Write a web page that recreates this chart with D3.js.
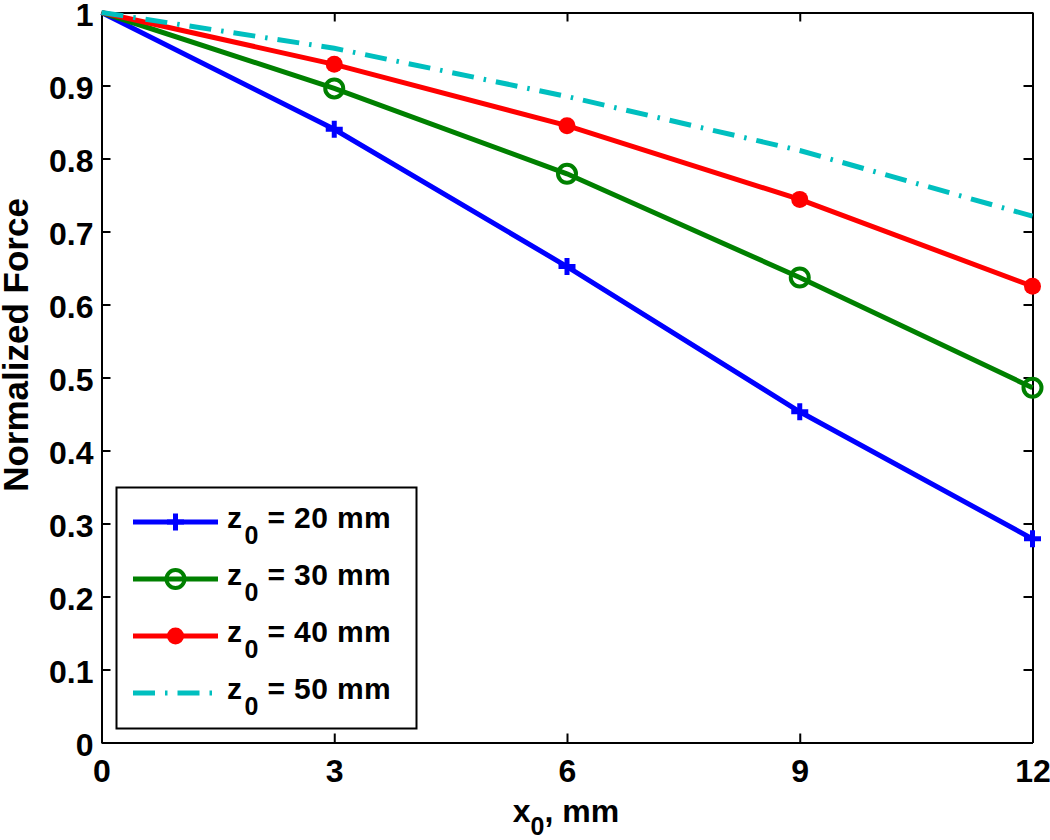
<!DOCTYPE html>
<html><head><meta charset="utf-8">
<script src="https://cdn.jsdelivr.net/npm/d3@7"></script>
<style>body{margin:0;background:#fff}svg{display:block}text{font-family:"Liberation Sans",Arial,sans-serif;font-weight:bold;fill:#000}</style>
</head><body><svg id="c" width="1050" height="840"></svg>
<script>
const xValues = [0, 3, 6, 9, 12];
const z20 = [1, 0.840, 0.652, 0.453, 0.279];
const z30 = [1, 0.896, 0.779, 0.637, 0.486];
const z40 = [1, 0.929, 0.845, 0.744, 0.625];
const z50 = [1, 0.951, 0.885, 0.811, 0.721];
const seriesNames = ["20", "30", "40", "50"];
const xTicks = [0, 3, 6, 9, 12];
const yTicks = [0, 0.1, 0.2, 0.3, 0.4, 0.5, 0.6, 0.7, 0.8, 0.9, 1];

const series = [
  {name: seriesNames[0], vals: z20, color: "#0000ff", marker: "plus", dash: null},
  {name: seriesNames[1], vals: z30, color: "#008000", marker: "circle", dash: null},
  {name: seriesNames[2], vals: z40, color: "#ff0000", marker: "dot", dash: null},
  {name: seriesNames[3], vals: z50, color: "#00bfbf", marker: null, dash: "22,10,2.5,10"}
];

const L = 101.5, R = 1032.5, T = 12.5, B = 742.5;
const svg = d3.select("#c");
const x = d3.scaleLinear().domain([0, 12]).range([L, R]);
const y = d3.scaleLinear().domain([0, 1]).range([B, T]);

const tick = 9;
const gx = svg.append("g").attr("transform", `translate(0,${B})`)
  .call(d3.axisBottom(x).tickValues(xTicks).tickSizeInner(-tick).tickSizeOuter(0).tickPadding(17).tickFormat(d3.format("d")));
const gxt = svg.append("g").attr("transform", `translate(0,${T})`)
  .call(d3.axisTop(x).tickValues(xTicks).tickSizeInner(-tick).tickSizeOuter(0).tickFormat(""));
const gy = svg.append("g").attr("transform", `translate(${L},0)`)
  .call(d3.axisLeft(y).tickValues(yTicks).tickSizeInner(-tick).tickSizeOuter(0).tickPadding(8).tickFormat(d => d === 0 || d === 1 ? d3.format("d")(d) : d3.format(".1f")(d)));
const gyr = svg.append("g").attr("transform", `translate(${R},0)`)
  .call(d3.axisRight(y).tickValues(yTicks).tickSizeInner(-tick).tickSizeOuter(0).tickFormat(""));
[gx, gxt, gy, gyr].forEach(g => {
  g.select(".domain").attr("stroke", "#000").attr("stroke-width", 2);
  g.selectAll(".tick line").attr("stroke", "#000").attr("stroke-width", 2);
  g.selectAll(".tick text").style("font-size", "32px").style("font-family", "Liberation Sans, Arial, sans-serif").style("font-weight", "bold").attr("fill", "#000");
});
gy.selectAll(".tick text").attr("dy", "0.4em");

const line = d3.line().x((d, i) => x(xValues[i])).y(d => y(d));
function drawMarker(g, type, cx, cy, color) {
  if (type === "plus") {
    g.append("path").attr("d", `M${cx-8.5},${cy}H${cx+8.5}M${cx},${cy-8.5}V${cy+8.5}`)
      .attr("stroke", color).attr("stroke-width", 5).attr("fill", "none");
  } else if (type === "circle") {
    g.append("circle").attr("cx", cx).attr("cy", cy).attr("r", 9)
      .attr("stroke", color).attr("stroke-width", 4).attr("fill", "none");
  } else if (type === "dot") {
    g.append("circle").attr("cx", cx).attr("cy", cy).attr("r", 8.5)
      .attr("fill", color);
  }
}
series.forEach(s => {
  const p = svg.append("path").datum(s.vals).attr("d", line)
    .attr("fill", "none").attr("stroke", s.color).attr("stroke-width", 5);
  if (s.dash) p.attr("stroke-dasharray", s.dash);
  if (s.marker) {
    const g = svg.append("g");
    s.vals.forEach((v, i) => { if (i > 0) drawMarker(g, s.marker, x(xValues[i]), y(v), s.color); });
  }
});

// legend
const lg = svg.append("g");
lg.append("rect").attr("x", 116.5).attr("y", 487.5).attr("width", 300).attr("height", 241)
  .attr("fill", "#fff").attr("stroke", "#000").attr("stroke-width", 2);
series.forEach((s, i) => {
  const ry = 522 + i * 57;
  const ln = lg.append("line").attr("x1", 133).attr("x2", 218).attr("y1", ry).attr("y2", ry)
    .attr("stroke", s.color).attr("stroke-width", 5);
  if (s.dash) ln.attr("stroke-dasharray", s.dash);
  if (s.marker) drawMarker(lg, s.marker, 175.5, ry, s.color);
  const t = lg.append("text").attr("x", 227).attr("y", ry + 6).style("font-size", "30px").style("letter-spacing", "0.4px");
  t.append("tspan").text("z");
  t.append("tspan").attr("dx", 2).attr("dy", 16).style("font-size", "25px").text("0");
  t.append("tspan").attr("dy", -16).text(` = ${s.name} mm`);
});

// axis labels
const xl = svg.append("text").attr("x", 566).attr("y", 822).attr("text-anchor", "middle").style("font-size", "32px");
xl.append("tspan").text("x");
xl.append("tspan").attr("dy", 13).style("font-size", "25px").text("0");
xl.append("tspan").attr("dy", -13).text(", mm");

svg.append("text").attr("transform", `translate(28,345) rotate(-90)`)
  .attr("text-anchor", "middle").style("font-size", "35px").text("Normalized Force");
</script></body></html>
